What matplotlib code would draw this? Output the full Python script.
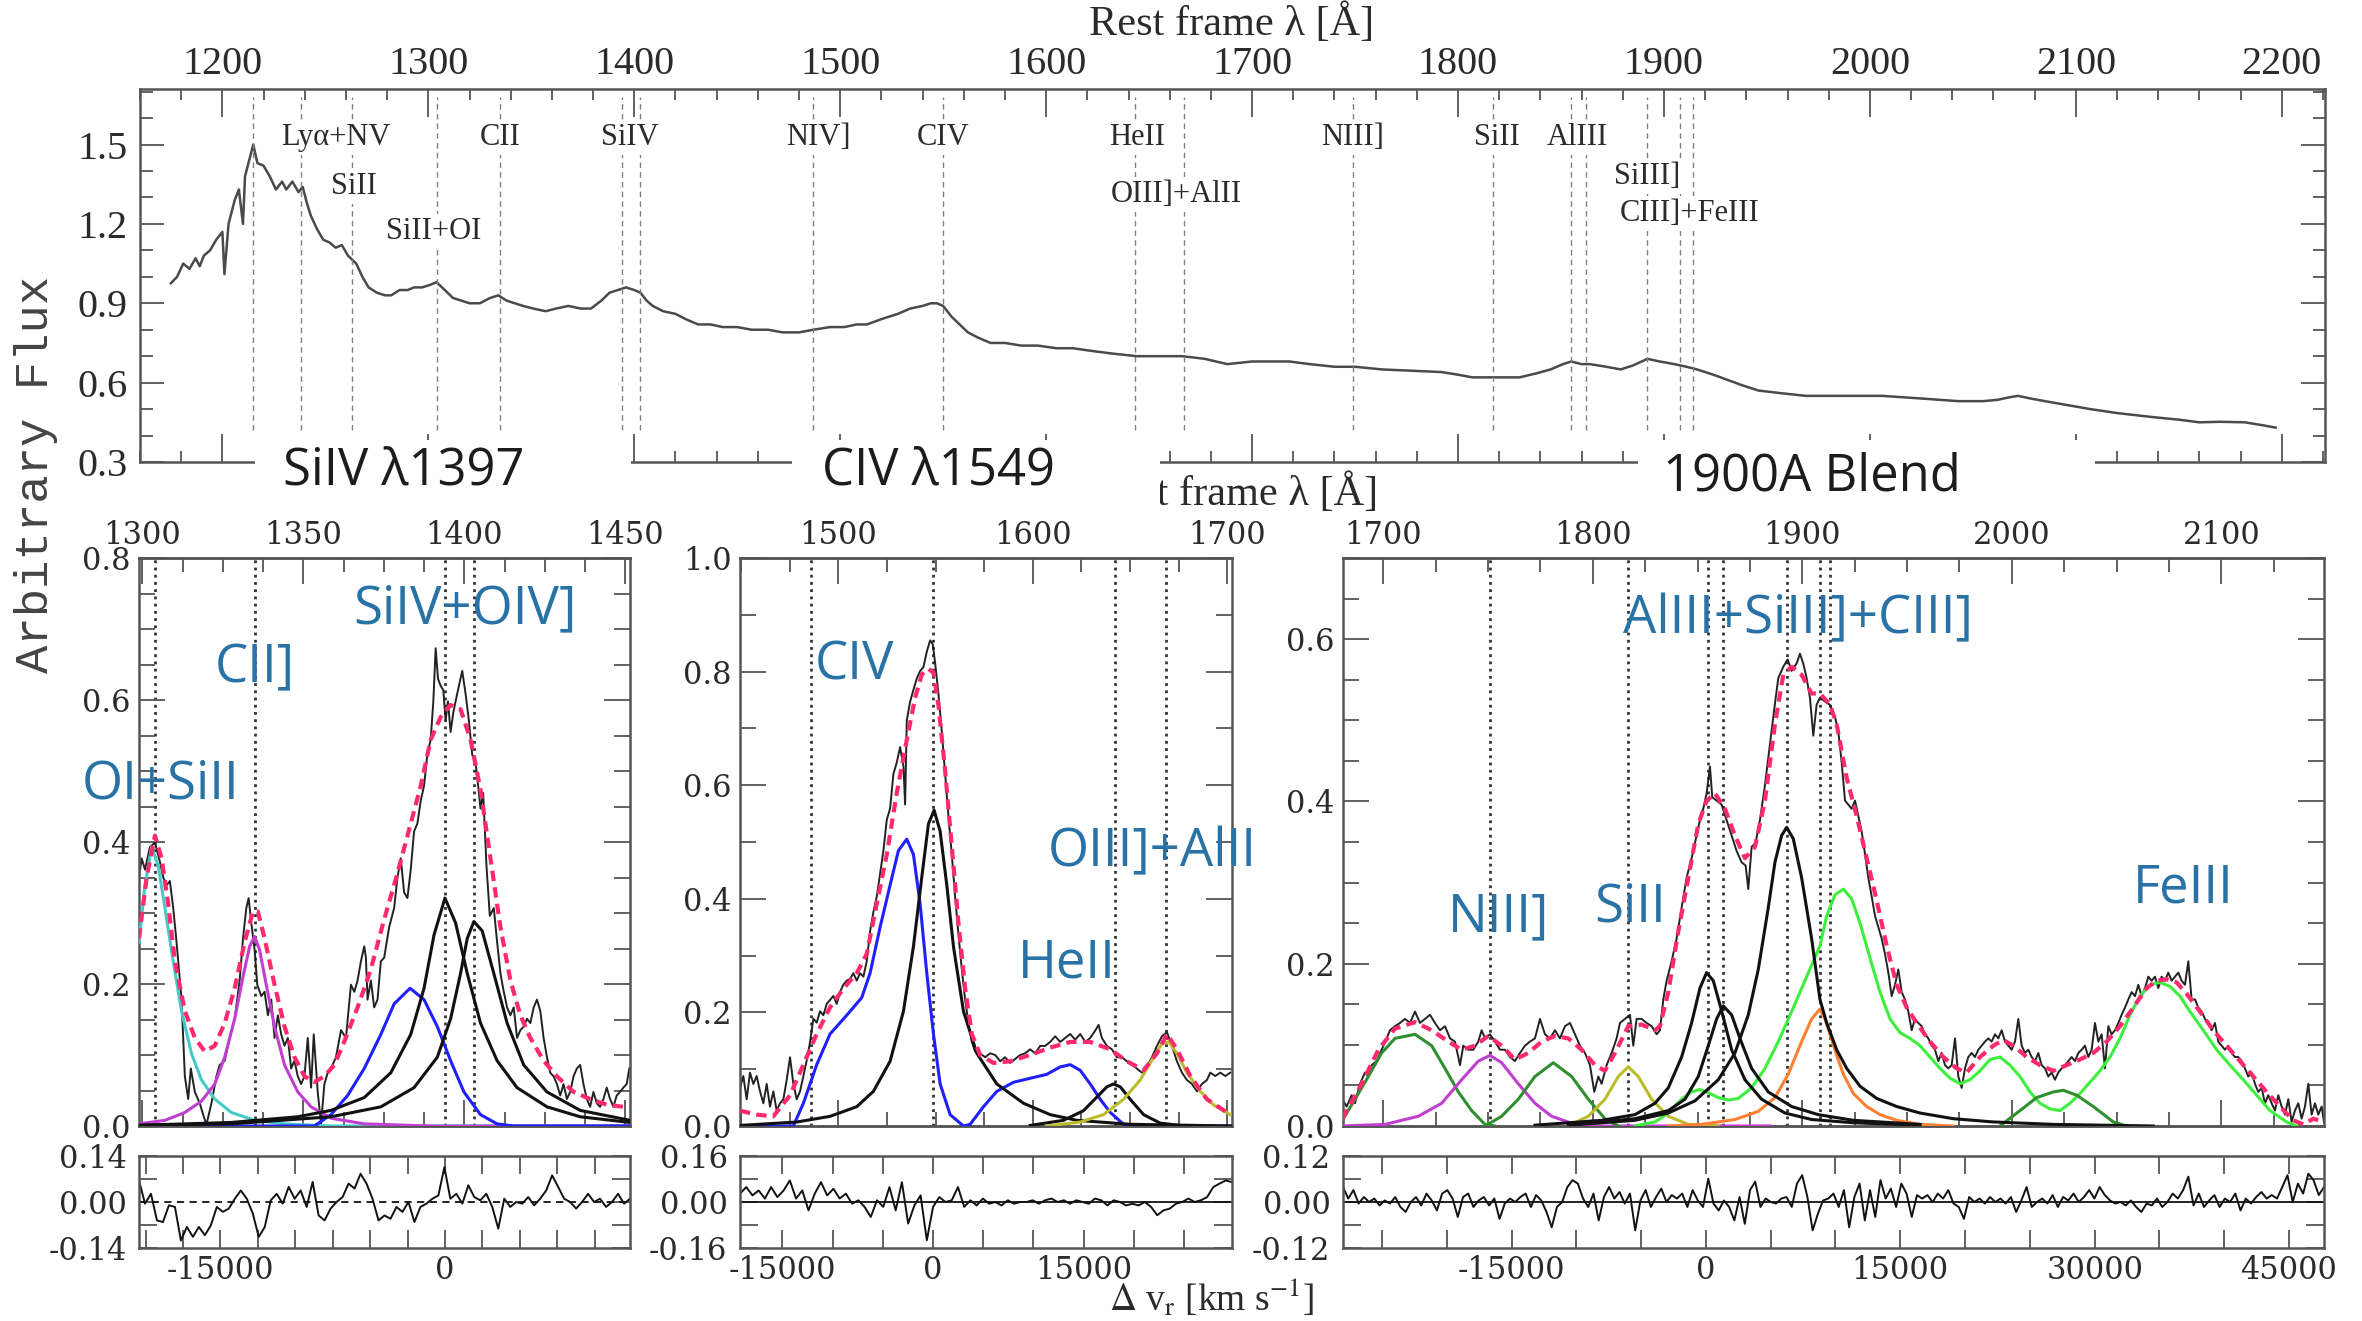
import numpy as np
import matplotlib
matplotlib.use('Agg')
import matplotlib.pyplot as plt
from matplotlib.patches import Rectangle
from matplotlib.ticker import MultipleLocator, FixedLocator, FixedFormatter

plt.rcParams['font.family'] = 'DejaVu Serif'
plt.rcParams['axes.unicode_minus'] = False
plt.rcParams['mathtext.fontset'] = 'stix'

C_KMS = 299792.458

# ---------------- full rest-frame spectrum ----------------
wave_full = [1175, 1178, 1181, 1184, 1187, 1189, 1191, 1194, 1197, 1200, 1201, 1203, 1206, 1208, 1210,
             1211, 1213, 1215, 1217, 1220, 1223, 1226, 1229, 1231, 1234, 1237, 1239, 1241, 1243, 1246,
             1249, 1252, 1255, 1258, 1261, 1265, 1268, 1271, 1275, 1279, 1282, 1286, 1290, 1293, 1297,
             1301, 1304, 1308, 1312, 1316, 1320, 1325, 1330, 1334, 1338, 1342, 1346, 1351, 1357, 1362,
             1368, 1374, 1379, 1384, 1388, 1392, 1396, 1400, 1403, 1406, 1409, 1414, 1420, 1425, 1431,
             1437, 1443, 1450, 1457, 1465, 1472, 1480, 1487, 1495, 1502, 1508, 1513, 1520, 1528, 1534,
             1540, 1544, 1547, 1550, 1554, 1558, 1562, 1567, 1573, 1580, 1588, 1596, 1605, 1613, 1622,
             1632, 1644, 1655, 1666, 1677, 1688, 1700, 1710, 1718, 1728, 1740, 1750, 1763, 1778, 1792,
             1800, 1807, 1818, 1830, 1838, 1845, 1851, 1855, 1860, 1864, 1872, 1879, 1885, 1892, 1898,
             1905, 1911, 1916, 1924, 1931, 1938, 1946, 1957, 1969, 1985, 2006, 2025, 2043, 2055, 2062,
             2068, 2072, 2078, 2085, 2096, 2107, 2120, 2137, 2150, 2160, 2170, 2182, 2190, 2197]
flux_full = [0.976, 1.00, 1.05, 1.03, 1.07, 1.04, 1.08, 1.10, 1.14, 1.17, 1.01, 1.20, 1.29, 1.33, 1.20,
             1.38, 1.44, 1.50, 1.43, 1.42, 1.38, 1.33, 1.36, 1.33, 1.36, 1.32, 1.34, 1.28, 1.23, 1.18,
             1.14, 1.13, 1.11, 1.12, 1.08, 1.05, 1.00, 0.96, 0.94, 0.93, 0.93, 0.95, 0.95, 0.96, 0.96,
             0.97, 0.98, 0.95, 0.92, 0.91, 0.90, 0.90, 0.92, 0.93, 0.91, 0.90, 0.89, 0.88, 0.87, 0.88,
             0.89, 0.88, 0.88, 0.91, 0.94, 0.95, 0.96, 0.95, 0.94, 0.91, 0.89, 0.87, 0.86, 0.84, 0.82,
             0.82, 0.81, 0.81, 0.80, 0.80, 0.79, 0.79, 0.80, 0.81, 0.81, 0.82, 0.82, 0.84, 0.86, 0.88,
             0.89, 0.90, 0.90, 0.89, 0.85, 0.82, 0.79, 0.77, 0.75, 0.75, 0.74, 0.74, 0.73, 0.73, 0.72,
             0.71, 0.70, 0.70, 0.70, 0.69, 0.67, 0.68, 0.68, 0.68, 0.67, 0.66, 0.66, 0.65, 0.645, 0.64,
             0.63, 0.62, 0.62, 0.62, 0.635, 0.65, 0.67, 0.68, 0.67, 0.67, 0.66, 0.65, 0.665, 0.69, 0.68,
             0.67, 0.66, 0.65, 0.63, 0.61, 0.59, 0.57, 0.56, 0.55, 0.55, 0.55, 0.54, 0.53, 0.53, 0.535,
             0.545, 0.55, 0.54, 0.53, 0.515, 0.50, 0.485, 0.47, 0.46, 0.45, 0.452, 0.45, 0.44, 0.43]
line_wave = [1215, 1238, 1263, 1304, 1335, 1394, 1403, 1487, 1550, 1643, 1667, 1749, 1817, 1855,
             1862, 1892, 1908, 1914]
top_labels = [('Ly\u03b1+NV', 1255, 1.525), ('SiII', 1264, 1.342), ('SiII+OI', 1302.6, 1.171),
              ('CII', 1334.7, 1.525), ('SiIV', 1398, 1.525), ('NIV]', 1489.6, 1.525),
              ('CIV', 1550, 1.525), ('HeII', 1644.4, 1.525), ('OIII]+AlII', 1663, 1.31),
              ('NIII]', 1748.7, 1.525), ('SiII', 1819, 1.525), ('AlIII', 1858, 1.525),
              ('SiIII]', 1892, 1.38), ('CIII]+FeIII', 1912.7, 1.24)]

# ---------------- SiIV 1397 panel ----------------
v1_obs = [-20437, -20260, -20038, -19705, -19372, -19039, -18817, -18595, -18373, -18151,
          -17929, -17596, -17374, -17152, -16975, -16708, -16376, -16154, -15932, -15599,
          -15266, -15044, -14711, -14379, -14046, -13713, -13491, -13269, -13114, -12936,
          -12714, -12537, -12270, -12048, -11826, -11604, -11383, -11161, -10939, -10717,
          -10495, -10273, -10052, -9830, -9608, -9386, -9164, -8942, -8765, -8499,
          -8277, -8055, -7833, -7611, -7278, -6945, -6613, -6280, -6058, -5836,
          -5614, -5392, -5281, -5170, -4948, -4727, -4505, -4283, -4061, -3728,
          -3395, -3173, -2951, -2729, -2507, -2286, -2064, -1842, -1620, -1398,
          -1176, -954, -777, -621, -466, -288, -111, 44, 200, 377,
          555, 710, 932, 1154, 1376, 1598, 1820, 2041, 2219, 2374,
          2552, 2774, 2996, 3262, 3484, 3706, 3928, 4150, 4371, 4593,
          4815, 5037, 5259, 5481, 5703, 5925, 6146, 6368, 6590, 6812,
          7034, 7256, 7478, 7700, 7922, 8144, 8366, 8588, 8809, 9031,
          9253, 9475, 9697, 9919, 10141, 10363, 10585, 10807, 11028, 11250,
          11472, 11694, 11916, 12138, 12315]
f1_obs = [0.350, 0.377, 0.361, 0.393, 0.399, 0.372, 0.350, 0.339, 0.345, 0.307,
          0.259, 0.178, 0.070, 0.038, 0.081, 0.048, 0.032, 0.016, 0.002, 0.032,
          0.070, 0.086, 0.092, 0.124, 0.151, 0.205, 0.264, 0.307, 0.321, 0.286,
          0.248, 0.199, 0.183, 0.189, 0.156, 0.178, 0.124, 0.156, 0.129, 0.113,
          0.124, 0.081, 0.092, 0.070, 0.059, 0.070, 0.124, 0.054, 0.129, 0.048,
          0.003, 0.059, 0.075, 0.081, 0.097, 0.135, 0.124, 0.199, 0.189, 0.205,
          0.232, 0.253, 0.237, 0.178, 0.205, 0.167, 0.178, 0.232, 0.237, 0.280,
          0.307, 0.350, 0.377, 0.329, 0.321, 0.361, 0.415, 0.426, 0.458, 0.479,
          0.523, 0.544, 0.598, 0.673, 0.630, 0.620, 0.614, 0.571, 0.598, 0.555,
          0.582, 0.598, 0.620, 0.641, 0.609, 0.571, 0.523, 0.512, 0.479, 0.447,
          0.469, 0.366, 0.296, 0.307, 0.259, 0.215, 0.189, 0.167, 0.156, 0.167,
          0.124, 0.135, 0.140, 0.151, 0.145, 0.167, 0.178, 0.162, 0.124, 0.097,
          0.075, 0.070, 0.059, 0.043, 0.059, 0.038, 0.048, 0.070, 0.081, 0.086,
          0.059, 0.038, 0.027, 0.048, 0.032, 0.027, 0.038, 0.054, 0.038, 0.027,
          0.043, 0.048, 0.054, 0.059, 0.081]
v1_fit = [-20437, -19927, -19372, -18928, -18484, -18040, -17374, -16708, -16043, -15377,
          -14711, -14046, -13380, -12826, -12493, -12048, -11383, -10717, -10052, -9386,
          -8720, -8055, -7389, -6724, -5836, -4948, -4061, -3173, -2286, -1620,
          -954, -288, 377, 1043, 1709, 2374, 3040, 3706, 4371, 5037,
          5703, 6590, 7478, 8588, 9697, 10807, 11916, 12360]
f1_fit = [0.264, 0.350, 0.409, 0.377, 0.312, 0.232, 0.162, 0.124, 0.105, 0.113,
          0.145, 0.194, 0.259, 0.302, 0.302, 0.264, 0.199, 0.140, 0.097, 0.070,
          0.062, 0.070, 0.086, 0.119, 0.167, 0.221, 0.291, 0.356, 0.426, 0.479,
          0.544, 0.576, 0.593, 0.587, 0.544, 0.474, 0.377, 0.280, 0.205, 0.156,
          0.124, 0.092, 0.070, 0.048, 0.038, 0.030, 0.027, 0.027]
v1_cyan = [-20437, -20038, -19594, -19150, -18706, -18151, -17596, -16931, -16265, -15377,
           -14268, -12715, -10718, -7611, 12360]
f1_cyan = [0.259, 0.339, 0.393, 0.366, 0.307, 0.232, 0.162, 0.102, 0.065, 0.038,
           0.019, 0.008, 0.003, 0.0, 0.0]
v1_mag = [-20437, -18706, -17375, -16265, -15377, -14712, -14046, -13491, -13048, -12715,
          -12382, -11938, -11383, -10718, -9830, -8943, -7611, -5392, -954, 12360]
f1_mag = [0.003, 0.008, 0.019, 0.035, 0.059, 0.097, 0.151, 0.210, 0.253, 0.267,
          0.248, 0.199, 0.140, 0.086, 0.048, 0.027, 0.011, 0.003, 0.0, 0.0]
v1_blue = [-20437, -8721, -7611, -6502, -5392, -4283, -3395, -2330, -1398, -510,
           377, 1265, 2374, 3484, 4593, 12360]
f1_blue = [0.0, 0.0, 0.016, 0.043, 0.081, 0.129, 0.172, 0.194, 0.178, 0.140,
           0.092, 0.048, 0.016, 0.003, 0.0, 0.0]
v1_blk1 = [-20437, -14268, -9830, -7611, -5392, -3617, -2286, -1398, -732, 0,
           710, 1487, 2374, 3484, 4815, 6812, 9031, 12360]
f1_blk1 = [0.001, 0.005, 0.013, 0.022, 0.040, 0.075, 0.129, 0.194, 0.269, 0.321,
           0.286, 0.215, 0.145, 0.092, 0.054, 0.027, 0.013, 0.005]
v1_blk2 = [-20437, -14268, -7611, -4283, -2064, -510, 377, 1043, 1487, 1931,
           2485, 3262, 4150, 5259, 6812, 9031, 12360]
f1_blk2 = [0.001, 0.003, 0.013, 0.027, 0.054, 0.097, 0.151, 0.215, 0.264, 0.288,
           0.275, 0.215, 0.145, 0.086, 0.048, 0.022, 0.008]
r1 = [0.066, -0.005, 0.025, -0.056, -0.061, -0.010, -0.015, -0.117, -0.076, -0.106,
      -0.076, -0.101, -0.071, -0.015, -0.030, -0.020, 0.010, 0.035, 0.010, -0.035,
      -0.106, -0.076, 0.005, 0.025, -0.005, 0.046, 0.010, 0.035, -0.015, 0.061,
      -0.041, -0.056, -0.020, 0.0, 0.015, 0.056, 0.041, 0.086, 0.056, 0.010,
      -0.056, -0.041, -0.051, -0.015, -0.030, 0.0, -0.061, -0.015, -0.005, 0.010,
      0.020, 0.106, 0.010, 0.025, -0.005, 0.051, 0.015, 0.005, 0.025, -0.015,
      -0.081, 0.010, -0.015, 0.0, -0.005, 0.015, -0.010, 0.010, 0.035, 0.081,
      0.046, 0.010, 0.0, -0.020, 0.0, 0.025, 0.0, 0.010, -0.015, 0.0,
      0.025, -0.005, 0.010]
lines1 = [-19370, -12700, 0, 1930]
labels1 = [('OI+SiII', -19025, 0.48), ('CII]', -12715, 0.644), ('SiIV+OIV]', 1309, 0.727)]
wl_ticks1 = [1300, 1350, 1400, 1450]

# ---------------- CIV 1549 panel ----------------
v2_obs = [-19213, -18881, -18549, -18217, -17885, -17553, -17221, -16889, -16557, -16225,
          -15893, -15561, -15229, -14897, -14565, -14233, -13901, -13569, -13237, -12905,
          -12507,
          -12241, -11909, -11577, -11245, -10913, -10581, -10249, -9917, -9585, -9253,
          -8921, -8589, -8257, -7925, -7593, -7261, -6929, -6597, -6265, -5933,
          -5601, -5269, -4937, -4605, -4273, -3941, -3609, -3277, -2945,
          -2779,
          -2613, -2281, -1949, -1617, -1285, -953, -621, -289,
          -24,
          209, 541, 873, 1205, 1537, 1869, 2201, 2533, 2865, 3197, 3529, 3861, 4193,
          4691, 5189, 5687, 6185, 6683, 7181, 7679, 8177, 8675, 9173, 9671, 10169,
          10667, 11165, 11663, 12161, 12659, 13157, 13655, 14153, 14651, 15149, 15647, 16145,
          16477,
          16809, 17307, 17805, 18303, 18801, 19299, 19797, 20295, 20793, 21291, 21789,
          22287, 22785, 23283, 23781, 24279, 24777, 25275, 25773, 26271, 26769, 27267,
          27599,
          28097, 28595, 29093, 29591]
f2_obs = [0.067, 0.088, 0.047, 0.094, 0.074, 0.088, 0.061, 0.040, 0.074, 0.034,
          0.061, 0.027, 0.040, 0.047, 0.081, 0.121, 0.074, 0.047, 0.061, 0.088,
          0.121,
          0.148, 0.189, 0.182, 0.202, 0.195, 0.215, 0.222, 0.229, 0.215, 0.236,
          0.249, 0.256, 0.259, 0.269, 0.256, 0.269, 0.263, 0.290, 0.343, 0.377,
          0.404, 0.444, 0.485, 0.539, 0.559, 0.620, 0.640, 0.667, 0.633,
          0.566,
          0.714, 0.747, 0.768, 0.788, 0.801, 0.808, 0.835, 0.855,
          0.848,
          0.815, 0.761, 0.694, 0.620, 0.545, 0.478, 0.404, 0.337, 0.276, 0.222, 0.182, 0.148, 0.131,
          0.128, 0.121, 0.128, 0.125, 0.114, 0.121, 0.111, 0.118, 0.125, 0.128, 0.135, 0.128,
          0.141, 0.141, 0.148, 0.158, 0.148, 0.155, 0.162, 0.152, 0.162, 0.148, 0.155, 0.168,
          0.178,
          0.155, 0.141, 0.135, 0.121, 0.121, 0.114, 0.108, 0.101, 0.094, 0.104, 0.121,
          0.141, 0.158, 0.165, 0.141, 0.114, 0.094, 0.081, 0.074, 0.061, 0.074, 0.081,
          0.094,
          0.088, 0.094, 0.088, 0.094]
v2_fit = [-19213, -17553, -15893, -14233, -12905, -11577, -10249, -8921, -7593, -6597,
          -5601, -4605, -3609, -2613, -1783, -1119, -455, 43, 541, 1205,
          1869, 2533, 3197, 3861, 4691, 6019, 7679, 9671, 11663, 13655,
          15647, 17639, 19299, 20959, 22287, 23283, 24279, 25607, 27267, 29591]
f2_fit = [0.027, 0.020, 0.017, 0.054, 0.108, 0.162, 0.209, 0.242, 0.269, 0.303,
          0.391, 0.478, 0.586, 0.680, 0.754, 0.795, 0.805, 0.798, 0.741, 0.626,
          0.492, 0.357, 0.242, 0.162, 0.125, 0.111, 0.114, 0.125, 0.138, 0.148,
          0.148, 0.135, 0.114, 0.098, 0.128, 0.162, 0.135, 0.088, 0.047, 0.020]
v2_blue = [-19213, -13901, -12905, -11577, -10249, -8589, -7095, -6265, -5269, -4273,
           -3443, -2613, -1949, -1285, -621, 43, 707, 1703, 3031, 3695,
           5023, 6351, 8011, 9671, 11331, 12659, 13655, 14651, 15647, 16643,
           17639, 18967, 20295, 29591]
f2_blue = [0.0, 0.0, 0.040, 0.108, 0.162, 0.195, 0.226, 0.269, 0.350, 0.424,
           0.485, 0.505, 0.478, 0.391, 0.269, 0.162, 0.074, 0.020, 0.0, 0.003,
           0.034, 0.061, 0.077, 0.084, 0.091, 0.104, 0.108, 0.098, 0.074, 0.047,
           0.024, 0.003, 0.0, 0.0]
v2_core = [-19213, -13569, -10249, -7593, -5933, -4273, -2945, -1949, -1119, -455,
           109, 707, 1371, 2035, 3031, 4359, 6351, 9007, 11663, 14319,
           19631, 29591]
f2_core = [0.001, 0.007, 0.017, 0.034, 0.061, 0.114, 0.202, 0.316, 0.438, 0.532,
           0.556, 0.519, 0.424, 0.316, 0.202, 0.128, 0.074, 0.040, 0.020, 0.010,
           0.003, 0.0]
v2_heii = [9671, 12991, 14983, 16311, 17307, 17971, 18635, 19631, 20959, 22619, 24611]
f2_heii = [0.001, 0.010, 0.027, 0.051, 0.069, 0.074, 0.069, 0.047, 0.020, 0.005, 0.001]
v2_oiii = [11331, 14651, 16975, 18967, 20627, 21955, 22787, 23451, 24279, 25275,
           26603, 27931, 29591]
f2_oiii = [0.0, 0.007, 0.020, 0.047, 0.081, 0.121, 0.145, 0.148, 0.128, 0.094,
           0.061, 0.037, 0.020]
r2 = [0.029, 0.052, 0.023, 0.040, 0.012, 0.052, 0.017, 0.040, 0.075, 0.012,
      0.040, -0.029, 0.029, 0.069, 0.023, 0.046, 0.012, 0.029, -0.006, 0.006,
      -0.017, -0.052, 0.006, -0.017, 0.052, -0.029, 0.069, -0.075, -0.012, 0.023,
      -0.133, -0.017, 0.017, 0.0, 0.006, 0.052, -0.017, 0.006, -0.012, 0.012,
      -0.006, 0.0, -0.012, 0.006, -0.006, 0.0, 0.0, 0.006, -0.006, 0.006,
      0.012, 0.0, 0.006, -0.006, 0.006, 0.0, -0.006, 0.012, 0.006, -0.012,
      0.006, 0.0, -0.012, -0.006, -0.012, 0.0, -0.017, -0.046, -0.029, -0.023,
      -0.006, 0.0, 0.012, 0.0, 0.006, 0.017, 0.052, 0.064, 0.075, 0.069]
lines2 = [-12100, 0, 18100, 23240]
labels2 = [('CIV', -7858, 0.811), ('HeII', 13323, 0.286), ('OIII]+AlII', 21780, 0.481)]
wl_ticks2 = [1500, 1600, 1700]

# ---------------- 1900A blend panel ----------------
v3_obs = [-28057, -27723, -27337, -27080, -26694, -26308, -26051, -25794, -25408, -25022,
          -24636, -24379, -23993, -23607, -23222, -22836, -22450, -22065, -21679, -21293,
          -20907, -20521, -20135, -19750, -19364, -18978, -18721, -18335, -17949, -17564,
          -17306, -17049, -16663, -16277, -15892, -15506, -15120, -14734, -14348, -13963,
          -13577, -13191, -12805, -12419, -12034, -11648, -11262, -10876, -10490, -10105,
          -9719, -9333, -8947, -8613, -8304, -8047, -7661, -7275, -6890, -6632,
          -6247, -5861, -5604, -5347, -4961, -4575, -4189, -3803, -3546, -3289,
          -3032, -2646, -2260, -1875, -1489, -1103, -717, -460, -202, 55,
          312, 492, 827, 1212, 1598, 1984, 2370, 2755, 3064, 3270,
          3527, 3836, 4170, 4556, 4942, 5276, 5585, 5971, 6305, 6613,
          6999, 7256, 7513, 7771, 8028, 8285, 8542,
          8805, 9191, 9577, 9962, 10220, 10477, 10734, 10991, 11248, 11506,
          11763, 12020, 12277, 12534, 12792, 13049, 13306, 13563, 13820, 14078,
          14335, 14592, 14849, 15106, 15364, 15621, 15878, 16135, 16392, 16650,
          16907, 17164, 17421, 17678, 17936, 18193, 18450, 18707, 18964, 19222,
          19479, 19736, 19993, 20250, 20508, 20765, 21022, 21279, 21536, 21794,
          22051, 22308, 22565, 22822, 23080, 23337, 23594, 23851, 24108, 24366,
          24623, 24880, 25137, 25394, 25652, 25909, 26166, 26423, 26680, 26938,
          27195, 27452, 27709, 27966, 28224, 28481, 28738, 28995, 29252, 29510,
          29767, 30024, 30281, 30538, 30796, 31053, 31310, 31567, 31824, 32082,
          32339, 32596, 32853, 33110, 33368, 33625, 33882, 34139, 34396, 34654,
          34911, 35168, 35425, 35682, 35940, 36197, 36454, 36711, 36968, 37226,
          37483, 37740, 37997, 38254, 38512, 38769, 39026, 39283, 39540, 39798,
          40055, 40312, 40569, 40826, 41084, 41341, 41598, 41855, 42112, 42370,
          42627, 42884, 43141, 43398, 43656, 43913, 44170, 44427, 44684, 44942,
          45199, 45456, 45713, 45970, 46228, 46485, 46742, 46999, 47256, 47514,
          47694]
f3_obs = [0.033, 0.024, 0.038, 0.028, 0.052, 0.066, 0.061, 0.075, 0.080, 0.094,
          0.108, 0.118, 0.123, 0.127, 0.132, 0.127, 0.141, 0.127, 0.132, 0.137,
          0.127, 0.118, 0.123, 0.108, 0.104, 0.075, 0.099, 0.094, 0.094, 0.104,
          0.118, 0.108, 0.113, 0.104, 0.094, 0.094, 0.085, 0.080, 0.090, 0.099,
          0.104, 0.108, 0.132, 0.113, 0.108, 0.118, 0.108, 0.123, 0.127, 0.113,
          0.099, 0.090, 0.075, 0.042, 0.061, 0.052, 0.075, 0.090, 0.108, 0.127,
          0.132, 0.137, 0.099, 0.132, 0.132, 0.127, 0.123, 0.113, 0.118, 0.156,
          0.179, 0.203, 0.231, 0.269, 0.306, 0.330, 0.358, 0.377, 0.391, 0.410,
          0.443, 0.405, 0.401, 0.396, 0.377, 0.358, 0.339, 0.325, 0.321, 0.292,
          0.344, 0.349, 0.377, 0.420, 0.471, 0.514, 0.552, 0.566, 0.575, 0.561,
          0.570, 0.582, 0.570, 0.552, 0.528, 0.481, 0.519,
          0.528, 0.523, 0.519, 0.504, 0.486, 0.448, 0.401, 0.396, 0.391, 0.401,
          0.382, 0.363, 0.335, 0.306, 0.283, 0.259, 0.245, 0.231, 0.212, 0.189,
          0.160, 0.174, 0.193, 0.165, 0.156, 0.141, 0.118, 0.132, 0.127, 0.123,
          0.113, 0.108, 0.099, 0.094, 0.080, 0.090, 0.075, 0.071, 0.075, 0.108,
          0.061, 0.047, 0.071, 0.085, 0.090, 0.085, 0.094, 0.099, 0.104, 0.108,
          0.104, 0.113, 0.108, 0.118, 0.104, 0.099, 0.094, 0.104, 0.132, 0.099,
          0.090, 0.094, 0.085, 0.080, 0.090, 0.075, 0.071, 0.061, 0.066, 0.057,
          0.066, 0.071, 0.075, 0.080, 0.085, 0.080, 0.090, 0.094, 0.099, 0.085,
          0.094, 0.127, 0.104, 0.113, 0.071, 0.123, 0.113, 0.118, 0.127, 0.137,
          0.146, 0.156, 0.165, 0.160, 0.174, 0.160, 0.170, 0.184, 0.179, 0.184,
          0.170, 0.184, 0.179, 0.189, 0.179, 0.184, 0.189, 0.179, 0.174, 0.203,
          0.156, 0.156, 0.146, 0.141, 0.132, 0.127, 0.118, 0.127, 0.104, 0.099,
          0.094, 0.099, 0.090, 0.085, 0.085, 0.080, 0.071, 0.061, 0.066, 0.052,
          0.042, 0.047, 0.028, 0.038, 0.028, 0.019, 0.038, 0.024, 0.014, 0.033,
          0.005, 0.019, 0.028, 0.009, 0.024, 0.052, 0.014, 0.028, 0.014, 0.024,
          0.005]
v3_fit = [-28057, -26565, -25277, -23993, -22450, -21164, -19878, -18849, -17821, -16792,
          -15763, -14734, -13705, -12677, -11648, -10619, -9590, -8562, -7790, -7018,
          -5990, -4961, -3932, -3546, -2903, -2131, -1360, -588, 55, 698,
          1469, 2241, 3013, 3784, 4556, 5327, 5971, 6613, 7385, 8157,
          8805, 9577, 10091, 10863, 11634, 12406, 13177, 13949, 14721, 15492,
          16264, 17293, 18321, 19350, 20122, 21151, 22179, 22951, 23723, 24751,
          25780, 26809, 27838, 28867, 29895, 30924, 31953, 32982, 34011, 34782,
          35554, 36325, 37097, 38126, 39155, 40183, 41212, 42241, 43270, 44299,
          45327, 46099, 46871, 47694]
f3_fit = [0.009, 0.052, 0.094, 0.120, 0.128, 0.118, 0.104, 0.094, 0.099, 0.111,
          0.099, 0.082, 0.090, 0.104, 0.111, 0.108, 0.094, 0.075, 0.068, 0.090,
          0.123, 0.125, 0.118, 0.123, 0.165, 0.240, 0.306, 0.372, 0.401, 0.410,
          0.391, 0.358, 0.330, 0.344, 0.401, 0.495, 0.556, 0.566, 0.556, 0.533,
          0.533, 0.519, 0.495, 0.429, 0.382, 0.330, 0.278, 0.222, 0.174, 0.146,
          0.127, 0.104, 0.085, 0.071, 0.066, 0.085, 0.099, 0.106, 0.099, 0.085,
          0.075, 0.068, 0.075, 0.082, 0.090, 0.104, 0.123, 0.146, 0.170, 0.179,
          0.181, 0.177, 0.163, 0.141, 0.118, 0.099, 0.080, 0.061, 0.042, 0.024,
          0.007, 0.002, 0.009, 0.005]
v3_dg1 = [-28057, -27080, -26051, -25022, -23993, -22450, -21164, -20135, -19106, -18078,
          -17049, -16277]
f3_dg1 = [0.007, 0.033, 0.061, 0.090, 0.108, 0.113, 0.099, 0.071, 0.042, 0.019,
          0.002, 0.0]
v3_mag = [-28057, -24765, -22193, -20393, -18849, -17564, -16663, -15763, -14477, -13191,
          -11905, -10105, -8047, 5000]
f3_mag = [0.0, 0.002, 0.012, 0.028, 0.057, 0.080, 0.087, 0.078, 0.052, 0.028,
          0.012, 0.002, 0.0, 0.0]
v3_dg2 = [-17049, -15763, -14477, -13191, -11777, -10361, -9076, -7790, -6761]
f3_dg2 = [0.0, 0.012, 0.033, 0.061, 0.078, 0.061, 0.033, 0.009, 0.0]
v3_yel = [-10619, -9076, -7790, -6761, -5990, -5218, -4189, -2903, -1360, 955]
f3_yel = [0.0, 0.012, 0.033, 0.061, 0.073, 0.061, 0.033, 0.012, 0.002, 0.0]
v3_lime = [-5475, -3932, -2903, -1875, -1103, -460, 183, 955, 1727, 2498,
           3527, 4556, 5585, 6613, 7642, 8800, 9319, 9962, 10605, 11248,
           11891, 12663, 13435, 14206, 14978, 15749, 16521, 17293, 18064, 18836,
           19607, 20379, 21151, 21922, 22694, 23465, 24237, 25009, 25780, 26552,
           27323, 28095, 28867, 29638, 30410, 31181, 31953, 32725, 33496, 34268,
           35039, 35811, 36583, 37354, 38383, 39412, 40441, 41469, 42498, 43527,
           44813, 45585]
f3_lime = [0.0, 0.005, 0.016, 0.033, 0.042, 0.045, 0.041, 0.035, 0.032, 0.034,
           0.047, 0.071, 0.104, 0.141, 0.179, 0.222, 0.259, 0.285, 0.292, 0.280,
           0.250, 0.207, 0.165, 0.132, 0.115, 0.108, 0.099, 0.085, 0.071, 0.059,
           0.052, 0.057, 0.068, 0.082, 0.085, 0.075, 0.061, 0.042, 0.028, 0.021,
           0.019, 0.028, 0.040, 0.054, 0.068, 0.085, 0.108, 0.137, 0.160, 0.174,
           0.177, 0.172, 0.160, 0.141, 0.118, 0.094, 0.075, 0.057, 0.038, 0.019,
           0.005, 0.0]
v3_org = [-2903, -331, 2241, 4041, 5327, 6356, 7385, 8157, 8800, 9191,
          9577, 10091, 10605, 11377, 12406, 13435, 14721, 16521, 19093]
f3_org = [0.0, 0.002, 0.008, 0.018, 0.035, 0.064, 0.104, 0.132, 0.144, 0.132,
          0.113, 0.087, 0.064, 0.040, 0.024, 0.014, 0.007, 0.002, 0.0]
v3_blkA = [-13191, -8047, -5475, -3932, -2903, -1875, -1103, -460, 55, 569,
           1212, 1984, 3013, 4299, 6099, 8157, 11377, 16521]
f3_blkA = [0.001, 0.007, 0.014, 0.028, 0.047, 0.085, 0.127, 0.170, 0.189, 0.179,
           0.142, 0.094, 0.057, 0.033, 0.016, 0.008, 0.004, 0.001]
v3_blkB = [-10619, -5475, -2903, -1617, -588, 183, 827, 1341, 1984, 2627,
           3527, 4813, 6613, 8671, 11377, 16521]
f3_blkB = [0.001, 0.009, 0.019, 0.033, 0.061, 0.099, 0.132, 0.148, 0.137, 0.108,
           0.071, 0.042, 0.024, 0.014, 0.007, 0.002]
v3_blkC = [-10619, -5475, -2903, -846, 955, 2241, 3270, 4041, 4813, 5327,
           5842, 6228, 6742, 7385, 8157, 8800, 9319, 10091, 10863, 11891,
           13177, 14721, 16521, 19093, 22179, 26809, 34525]
f3_blkC = [0.001, 0.007, 0.016, 0.031, 0.057, 0.090, 0.137, 0.193, 0.269, 0.325,
           0.358, 0.368, 0.354, 0.306, 0.231, 0.156, 0.127, 0.094, 0.071, 0.049,
           0.034, 0.024, 0.016, 0.009, 0.005, 0.002, 0.0]
v3_dg3 = [22694, 24237, 25523, 26809, 27581, 28609, 29895, 31439, 32467]
f3_dg3 = [0.0, 0.019, 0.035, 0.042, 0.044, 0.038, 0.024, 0.005, 0.0]
r3 = [0.039, 0.009, 0.031, -0.004, 0.013, 0.0, 0.009, -0.009, 0.004, -0.004,
      0.013, -0.013, -0.026, 0.0, 0.013, -0.009, 0.022, 0.004, -0.022, 0.022,
      0.031, 0.009, -0.039, 0.013, 0.022, -0.013, 0.004, 0.013, -0.009, 0.009,
      -0.044, -0.004, 0.009, 0.0, 0.013, 0.022, -0.013, 0.018, 0.004, -0.026,
      -0.066, -0.013, 0.0, 0.039, 0.057, 0.048, 0.009, -0.013, 0.022, -0.048,
      0.013, 0.039, 0.009, 0.026, -0.004, 0.022, -0.074, 0.004, 0.031, -0.013,
      0.013, 0.035, 0.0, 0.018, 0.009, 0.022, -0.013, 0.031, 0.004, -0.013,
      0.061, -0.004, -0.022, 0.004, -0.013, -0.048, 0.013, -0.057, 0.031, 0.053,
      -0.013, 0.009, 0.0, -0.004, 0.009, 0.013, -0.013, 0.048, 0.070, 0.013,
      -0.074, -0.031, 0.004, 0.009, 0.022, -0.013, 0.031, -0.066, 0.013, 0.048,
      -0.048, 0.031, -0.039, 0.057, 0.009, 0.035, -0.013, 0.048, 0.022, -0.039,
      0.018, 0.009, 0.018, 0.0, 0.022, 0.009, 0.031, -0.004, -0.013, -0.044,
      0.013, 0.0, 0.009, -0.004, 0.013, 0.0, 0.009, -0.004, 0.013, -0.026,
      0.004, 0.039, -0.013, 0.0, 0.009, -0.004, 0.018, -0.013, 0.013, 0.004,
      0.022, 0.0, 0.013, 0.031, 0.009, 0.039, 0.018, 0.004, -0.004, 0.0,
      -0.009, 0.004, -0.013, -0.026, -0.004, -0.009, 0.009, -0.013, 0.0, 0.022,
      0.009, 0.031, 0.066, -0.009, 0.022, -0.013, 0.004, 0.018, -0.013, 0.009,
      0.0, 0.022, -0.022, 0.009, -0.004, 0.013, 0.026, 0.009, 0.018, 0.009,
      0.039, 0.070, 0.0, 0.048, 0.022, 0.074, 0.057, 0.018, 0.039]
lines3 = [-16660, -5990, 180, 1340, 6240, 8810, 9580]
labels3 = [('AlIII+SiIII]+CIII]', 7069, 0.624), ('NIII]', -16020, 0.257),
           ('SiII', -5810, 0.269), ('FeIII', 36840, 0.292)]
wl_ticks3 = [1700, 1800, 1900, 2000, 2100]

# ---------------- figure ----------------
W, H = 2362, 1321
fig = plt.figure(figsize=(W / 100, H / 100), dpi=100, facecolor='white')


def box(x0, x1, y0, y1):
    return [x0 / W, 1 - y1 / H, (x1 - x0) / W, (y1 - y0) / H]


SPINE = '#555555'
TXT = '#2b2b2b'
BLUE_TXT = '#2872a6'


def set_spines(ax, lw=1.8):
    for s in ax.spines.values():
        s.set_color(SPINE)
        s.set_linewidth(lw)


# top overview panel
ax0 = fig.add_axes(box(140, 2325, 89, 462))
ax0.plot(wave_full, flux_full, color='#4a4a4a', lw=1.8)
ax0.vlines(line_wave, 0.42, 1.68, colors='#808080', linestyles=(0, (4, 3)), lw=1.0)
for txt, x, y in top_labels:
    ax0.text(x, y, txt, ha='center', va='center', family='Liberation Serif', fontsize=22,
             color=TXT, bbox=dict(boxstyle='square,pad=0.1', fc='white', ec='none'))
ax0.set_xlim(1160, 2221)
ax0.set_ylim(0.3, 1.71)
ax0.xaxis.set_major_locator(MultipleLocator(100))
ax0.xaxis.set_minor_locator(MultipleLocator(20))
ax0.yaxis.set_major_locator(FixedLocator([0.3, 0.6, 0.9, 1.2, 1.5]))
ax0.yaxis.set_major_formatter(FixedFormatter(['0.3', '0.6', '0.9', '1.2', '1.5']))
ax0.yaxis.set_minor_locator(MultipleLocator(0.1))
ax0.tick_params(axis='x', which='both', direction='in', top=True, bottom=True,
                labeltop=True, labelbottom=False, color=SPINE, width=1.3)
ax0.tick_params(axis='x', which='major', length=20, pad=4)
ax0.tick_params(axis='x', which='minor', length=8)
ax0.tick_params(axis='y', which='both', direction='in', left=True, right=True,
                color=SPINE, width=1.3)
ax0.tick_params(axis='y', which='major', length=17, pad=9)
ax0.tick_params(axis='y', which='minor', length=9)
ax0.tick_params(labelsize=29, labelfontfamily='Liberation Serif', labelcolor=TXT)
set_spines(ax0)


def spectrum_panel(x0, x1, l0, vlim, ylim, ymaj, ymin, wl_ticks, lmin, rlim, vminor,
                   vobs, fobs, vfit, ffit, comps, resid, vlines, labels, zero_ls):
    ax = fig.add_axes(box(x0, x1, 558, 1126))
    axr = fig.add_axes(box(x0, x1, 1156, 1248))

    ax.vlines(vlines, ylim[0], ylim[1], colors='#333333', linestyles=(0, (1, 1.6)), lw=2.0, zorder=1)
    ax.plot(vobs, fobs, color='#222222', lw=1.4, zorder=2)
    for vv, ff, col in comps:
        ax.plot(vv, ff, color=col, lw=2.2, zorder=3)
    ax.plot(vfit, ffit, color='#ff2a6d', lw=3.0, ls=(0, (2.5, 1.5)), zorder=4)
    for txt, x, y in labels:
        ax.text(x, y, txt, ha='center', va='center', family='Open Sans', fontsize=38,
                color=BLUE_TXT, zorder=6, clip_on=False)
    ax.set_xlim(*vlim)
    ax.set_ylim(*ylim)
    ax.tick_params(axis='x', which='both', bottom=False, top=False,
                   labelbottom=False, labeltop=False)
    ax.yaxis.set_major_locator(MultipleLocator(ymaj))
    ax.yaxis.set_minor_locator(MultipleLocator(ymin))
    ax.yaxis.set_major_formatter(plt.FormatStrFormatter('%.1f'))
    ax.tick_params(axis='y', which='both', direction='in', left=True, right=True,
                   color=SPINE, width=1.3, labelsize=22, labelcolor=TXT)
    ax.tick_params(axis='y', which='major', length=19, pad=6)
    ax.tick_params(axis='y', which='minor', length=11.5)
    set_spines(ax)

    # rest-frame wavelength scale on top, mirrored ticks at the bottom
    fwd = lambda v, l0=l0: l0 * (1 + np.asarray(v, dtype=float) / C_KMS)
    inv = lambda l, l0=l0: (np.asarray(l, dtype=float) / l0 - 1) * C_KMS
    for side in ('top', 'bottom'):
        sec = ax.secondary_xaxis(side, functions=(fwd, inv))
        sec.xaxis.set_major_locator(FixedLocator(wl_ticks))
        sec.xaxis.set_minor_locator(MultipleLocator(lmin))
        sec.tick_params(axis='x', which='both', direction='in', color=SPINE, width=1.3,
                        labelsize=22, labelcolor=TXT)
        sec.tick_params(axis='x', which='major', length=19, pad=5)
        sec.tick_params(axis='x', which='minor', length=10)
        if side == 'bottom':
            sec.tick_params(labelbottom=False)
        sec.spines[side].set_color(SPINE)
        sec.spines[side].set_linewidth(1.8)

    # residuals
    axr.axhline(0, color='#111111', lw=1.3, ls=zero_ls)
    axr.plot(np.linspace(vlim[0], vlim[1], len(resid)), resid, color='#111111', lw=1.4)
    axr.set_xlim(*vlim)
    axr.set_ylim(-rlim, rlim)
    axr.xaxis.set_major_locator(MultipleLocator(15000))
    axr.xaxis.set_minor_locator(MultipleLocator(vminor))
    axr.yaxis.set_major_locator(FixedLocator([-rlim, -rlim / 2, 0, rlim / 2, rlim]))
    axr.yaxis.set_major_formatter(FixedFormatter(['%.2f' % -rlim, '', '0.00', '', '%.2f' % rlim]))
    axr.tick_params(axis='both', which='both', direction='in', top=True, bottom=True,
                    left=True, right=True, color=SPINE, width=1.3, length=13,
                    labelsize=22, labelcolor=TXT)
    axr.tick_params(axis='x', pad=5)
    axr.tick_params(axis='y', pad=9)
    set_spines(axr)
    return ax, axr


spectrum_panel(139, 630, 1394.0, (-20437, 12360), (0, 0.8), 0.2, 0.05, wl_ticks1, 12.5, 0.14, 2500,
               v1_obs, f1_obs, v1_fit, f1_fit,
               [(v1_cyan, f1_cyan, '#45c9c9'), (v1_mag, f1_mag, '#c03fd0'),
                (v1_blue, f1_blue, '#1f1fff'), (v1_blk1, f1_blk1, '#111111'),
                (v1_blk2, f1_blk2, '#111111')],
               r1, lines1, labels1, (0, (4, 3)))

spectrum_panel(740, 1232, 1548.7, (-19213, 29760), (0, 1.0), 0.2, 0.1, wl_ticks2, 25, 0.16, 5000,
               v2_obs, f2_obs, v2_fit, f2_fit,
               [(v2_blue, f2_blue, '#1f1fff'), (v2_core, f2_core, '#111111'),
                (v2_heii, f2_heii, '#111111'), (v2_oiii, f2_oiii, '#bcbc2a')],
               r2, lines2, labels2, '-')

spectrum_panel(1343, 2324, 1854.0, (-28005, 47697), (0, 0.70), 0.2, 0.05, wl_ticks3, 25, 0.12, 5000,
               v3_obs, f3_obs, v3_fit, f3_fit,
               [(v3_dg1, f3_dg1, '#2f8f2f'), (v3_mag, f3_mag, '#c03fd0'),
                (v3_dg2, f3_dg2, '#2f8f2f'), (v3_yel, f3_yel, '#bcbc2a'),
                (v3_lime, f3_lime, '#3df03d'), (v3_org, f3_org, '#ff8030'),
                (v3_dg3, f3_dg3, '#2f8f2f'), (v3_blkA, f3_blkA, '#111111'),
                (v3_blkB, f3_blkB, '#111111'), (v3_blkC, f3_blkC, '#111111')],
               r3, lines3, labels3, '-')

# axis captions
fig.text(1232 / W, 1 - 24 / H, 'Rest frame \u03bb [\u00c5]', ha='center', va='center',
         family='Liberation Serif', fontsize=30.5, color=TXT)
fig.text(1378 / W, 1 - 494 / H, 'Rest frame \u03bb [\u00c5]', ha='right', va='center',
         family='Liberation Serif', fontsize=30.5, color=TXT, zorder=2)
fig.text(1212 / W, 2 / H, r'$\Delta$ v$_{\rm r}$ [km s$^{-1}$]', ha='center', va='bottom',
         family='Liberation Serif', fontsize=27, color=TXT)
fig.text(36 / W, 1 - 474 / H, 'Arbitrary Flux', rotation=90, ha='center', va='center',
         family='Liberation Mono', fontsize=34, color='#444444')

# panel titles on white plates
for xa, xb in [(255, 631), (792, 1160), (1638, 2095)]:
    fig.add_artist(Rectangle((xa / W, 1 - 512 / H), (xb - xa) / W, 72 / H,
                             transform=fig.transFigure, fc='white', ec='none', zorder=5))
for txt, x, y in [('SiIV \u03bb1397', 404, 471), ('CIV \u03bb1549', 938, 471),
                  ('1900A Blend', 1812, 477)]:
    fig.text(x / W, 1 - y / H, txt, ha='center', va='center', family='Open Sans',
             fontsize=36.5, color='#1c1c1c', zorder=6)

fig.savefig('out.png', dpi=100, facecolor='white')
